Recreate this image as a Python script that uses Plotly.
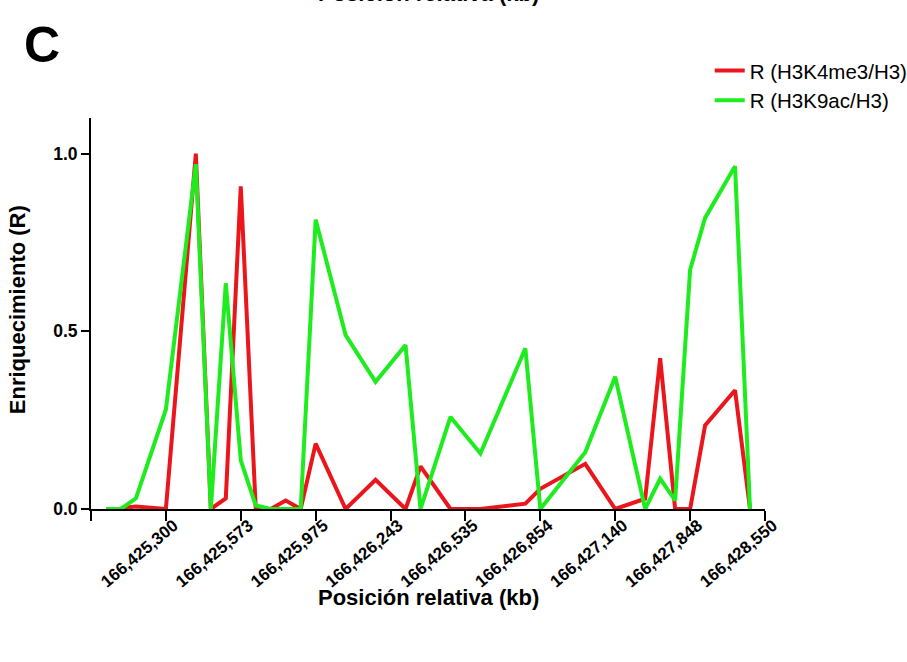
import plotly.graph_objects as go

# sample slots along the region (5 slots per labelled tick)
slots = list(range(1, 45))

r_h3k4me3 = [None, 0.003, 0.007, None, 0.0, None, 1.0, 0.0, 0.03, 0.908,
             0.0, 0.0, 0.024, 0.0, 0.184, None, 0.0, None, 0.082, None,
             0.0, 0.12, None, 0.0, None, 0.0, None, None, 0.015, 0.057,
             None, None, 0.127, None, 0.0, None, 0.029, 0.424, 0.0, 0.0,
             0.235, None, 0.334, 0.0]

r_h3k9ac = [0.0, 0.0, 0.03, None, 0.28, None, 0.97, 0.0, 0.635, 0.137,
            0.01, 0.0, 0.0, 0.0, 0.814, None, 0.489, None, 0.358, None,
            0.461, 0.0, None, 0.259, None, 0.156, None, None, 0.452, 0.0,
            None, None, 0.16, None, 0.372, None, 0.0, 0.085, 0.024, 0.673,
            0.819, None, 0.964, 0.0]

tick_slots = [0, 5, 10, 15, 20, 25, 30, 35, 40, 45]
tick_labels = ["", "166,425,300", "166,425,573", "166,425,975", "166,426,243",
               "166,426,535", "166,426,854", "166,427,140", "166,427,848",
               "166,428,550"]

names = ["R (H3K4me3/H3)", "R (H3K9ac/H3)"]
colors = ["#ea161c", "#1eec1e"]

FONT = "Liberation Sans, Arial, Helvetica, sans-serif"

fig = go.Figure()
for i, (vals, nm, col) in enumerate(zip([r_h3k4me3, r_h3k9ac], names, colors)):
    fig.add_trace(go.Scatter(
        x=slots, y=vals, mode="lines", name=nm, connectgaps=True,
        line=dict(color=col, width=4), legendgroup=f"g{i}",
    ))

fig.update_layout(
    width=907, height=662,
    margin=dict(l=91, r=142, t=118, b=153, autoexpand=False),
    paper_bgcolor="white", plot_bgcolor="white",
    font=dict(family=FONT, color="black"),
    showlegend=True,
    legend=dict(x=0.918, y=1.172, xanchor="left", yanchor="top",
                font=dict(size=20.5, family=FONT), itemwidth=30,
                traceorder="grouped", tracegroupgap=0,
                bgcolor="rgba(0,0,0,0)"),
    xaxis=dict(range=[0, 45], tickmode="array", tickvals=tick_slots,
               ticktext=tick_labels, tickangle=-40, automargin=False,
               ticklabelstandoff=-12, ticklabelshift=8,
               showgrid=False, zeroline=False,
               showline=True, linecolor="black", linewidth=2,
               ticks="outside", ticklen=10, tickwidth=2, tickcolor="black",
               tickfont=dict(size=17, family=FONT, weight="bold")),
    yaxis=dict(range=[0, 1.1], tickmode="array", tickvals=[0, 0.5, 1.0],
               ticktext=["0.0", "0.5", "1.0"], automargin=False,
               showgrid=False, zeroline=False,
               showline=True, linecolor="black", linewidth=2,
               ticks="outside", ticklen=8, tickwidth=2, tickcolor="black",
               tickfont=dict(size=17.5, family=FONT, weight="bold")),
)

# axis titles
fig.add_annotation(text="<b>Posición relativa (kb)</b>", xref="paper", yref="paper",
                   x=0.5, y=-0.226, xanchor="center", yanchor="middle",
                   showarrow=False, font=dict(size=22, family=FONT))
fig.add_annotation(text="<b>Enriquecimiento (R)</b>", xref="paper", yref="paper",
                   x=-0.108, y=0.509, xanchor="center", yanchor="middle",
                   textangle=-90, showarrow=False, font=dict(size=22, family=FONT))

# panel letter and the cut-off title of the panel above
fig.add_annotation(text="<b>C</b>", xref="paper", yref="paper",
                   x=-0.102, y=1.11, xanchor="left", yanchor="bottom",
                   showarrow=False, font=dict(size=50, family=FONT))
fig.add_annotation(text="<b>Posición relativa (kb)</b>", xref="paper", yref="paper",
                   x=0.5, y=1.281, xanchor="center", yanchor="bottom",
                   showarrow=False, font=dict(size=22, family=FONT))

fig.write_html("out.html", config={"displayModeBar": False},
               post_script="document.body.style.margin='0';")
